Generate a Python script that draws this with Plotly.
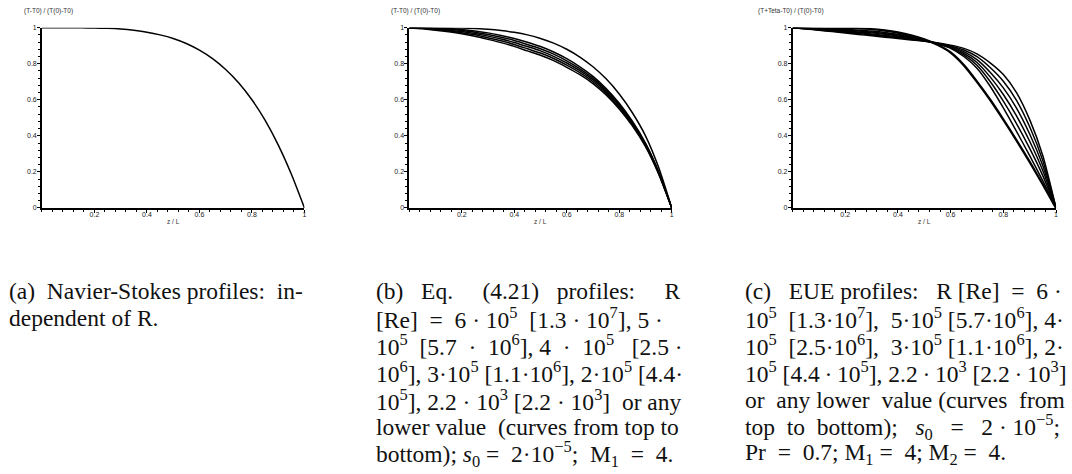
import plotly.graph_objects as go

# ---- data -------------------------------------------------------------
z = [0.00, 0.05, 0.10, 0.15, 0.20, 0.25, 0.30, 0.35, 0.40, 0.45, 0.50,
     0.55, 0.60, 0.65, 0.70, 0.75, 0.80, 0.85, 0.90, 0.95, 1.00]

# (a) Navier-Stokes profile
ns_profile = [1.000, 1.000, 1.000, 0.999, 0.998, 0.996, 0.992, 0.985, 0.975, 0.960, 0.940,
              0.912, 0.875, 0.828, 0.768, 0.693, 0.600, 0.487, 0.350, 0.188, 0.000]

# (b) Eq. (4.21) profiles, top to bottom
eq_top = [1.000, 1.000, 1.000, 0.999, 0.998, 0.995, 0.991, 0.984, 0.974, 0.960, 0.940,
          0.914, 0.880, 0.837, 0.783, 0.716, 0.632, 0.528, 0.400, 0.225, 0.000]
eq_2 = [1.000, 1.000, 0.998, 0.995, 0.990, 0.982, 0.971, 0.957, 0.940, 0.919, 0.895,
        0.865, 0.828, 0.783, 0.730, 0.663, 0.581, 0.481, 0.360, 0.201, 0.000]
eq_3 = [1.000, 0.999, 0.995, 0.991, 0.984, 0.975, 0.962, 0.947, 0.929, 0.907, 0.883,
        0.853, 0.816, 0.772, 0.720, 0.654, 0.573, 0.475, 0.355, 0.198, 0.000]
eq_4 = [1.000, 0.997, 0.992, 0.986, 0.978, 0.967, 0.953, 0.937, 0.918, 0.895, 0.871,
        0.841, 0.804, 0.761, 0.710, 0.645, 0.565, 0.468, 0.350, 0.195, 0.000]
eq_5 = [1.000, 0.996, 0.989, 0.982, 0.972, 0.960, 0.944, 0.927, 0.907, 0.883, 0.859,
        0.829, 0.792, 0.750, 0.700, 0.636, 0.557, 0.462, 0.345, 0.192, 0.000]
eq_6 = [1.000, 0.994, 0.986, 0.977, 0.966, 0.952, 0.935, 0.917, 0.896, 0.871, 0.847,
        0.817, 0.780, 0.739, 0.690, 0.627, 0.549, 0.455, 0.340, 0.189, 0.000]

# (c) EUE profiles (eue_1 is flat near the wall and lowest near z/L = 1)
eue_1 = [1.000, 1.000, 1.000, 0.999, 0.998, 0.996, 0.992, 0.984, 0.973, 0.957, 0.935,
         0.905, 0.862, 0.792, 0.700, 0.600, 0.490, 0.375, 0.255, 0.130, 0.000]
eue_2 = [1.000, 0.998, 0.996, 0.993, 0.990, 0.986, 0.981, 0.973, 0.963, 0.950, 0.932,
         0.910, 0.885, 0.840, 0.775, 0.675, 0.555, 0.425, 0.290, 0.150, 0.000]
eue_3 = [1.000, 0.997, 0.993, 0.990, 0.986, 0.981, 0.976, 0.968, 0.959, 0.946, 0.930,
         0.911, 0.889, 0.849, 0.791, 0.701, 0.592, 0.468, 0.330, 0.178, 0.000]
eue_4 = [1.000, 0.996, 0.991, 0.987, 0.982, 0.976, 0.971, 0.963, 0.954, 0.943, 0.929,
         0.912, 0.892, 0.858, 0.807, 0.727, 0.629, 0.511, 0.370, 0.206, 0.000]
eue_5 = [1.000, 0.995, 0.989, 0.984, 0.978, 0.972, 0.965, 0.957, 0.949, 0.939, 0.927,
         0.913, 0.896, 0.867, 0.823, 0.753, 0.666, 0.554, 0.410, 0.234, 0.000]
eue_6 = [1.000, 0.994, 0.987, 0.981, 0.974, 0.967, 0.960, 0.952, 0.945, 0.936, 0.926,
         0.914, 0.899, 0.876, 0.839, 0.779, 0.703, 0.597, 0.450, 0.262, 0.000]
eue_7 = [1.000, 0.993, 0.985, 0.978, 0.970, 0.962, 0.955, 0.947, 0.940, 0.932, 0.924,
         0.915, 0.903, 0.885, 0.855, 0.805, 0.740, 0.640, 0.490, 0.290, 0.000]

x_tick_vals = [0.2, 0.4, 0.6, 0.8, 1.0]
x_tick_text = ["0.2", "0.4", "0.6", "0.8", "1"]
y_tick_vals = [0.0, 0.2, 0.4, 0.6, 0.8, 1.0]
y_tick_text = ["0", "0.2", "0.4", "0.6", "0.8", "1"]

y_titles = ["(T-T0) / (T(0)-T0)", "(T-T0) / (T(0)-T0)", "(T+Teta-T0) / (T(0)-T0)"]
x_title = "z / L"

N = "\u00a0"   # no-break space, used to spread words across the caption column
T = "\u2009"   # thin space, used where a line must stay narrow
captions = [
    ["(a)" + N + " Navier-Stokes profiles:" + N + " in-",
     "dependent of R."],
    ["(b)" + N * 2 + " Eq." + N * 4 + " (4.21)" + N * 2 + " profiles:" + N * 4 + " R",
     "[Re]" + N + " =" + N + " 6 · 10<sup>5</sup>" + N + " [1.3 · 10<sup>7</sup>], 5 ·",
     "10<sup>5</sup>" + N + " [5.7" + N + " · " + N + "10<sup>6</sup>], 4" + N + " · " + N
     + "10<sup>5</sup>" + N * 2 + " [2.5 ·",
     "10<sup>6</sup>], 3·10<sup>5</sup> [1.1·10<sup>6</sup>], 2·10<sup>5</sup> [4.4·",
     "10<sup>5</sup>], 2.2 · 10<sup>3</sup> [2.2 · 10<sup>3</sup>]" + N + " or any",
     "lower value" + N + " (curves from top to",
     "bottom); <i>s</i><sub>0</sub> =" + N + " 2·10<sup>\u22125</sup>;" + N
     + " M<sub>1</sub>" + N + " =" + N + " 4."],
    ["(c)" + N * 2 + " EUE profiles:" + N * 2 + " R [Re]" + N + " =" + N + " 6 ·",
     "10<sup>5</sup>" + N + " [1.3·10<sup>7</sup>]," + N + " 5·10<sup>5</sup>"
     + " [5.7·10<sup>6</sup>], 4·",
     "10<sup>5</sup>" + N + " [2.5·10<sup>6</sup>]," + N + " 3·10<sup>5</sup>"
     + " [1.1·10<sup>6</sup>], 2·",
     "10<sup>5</sup> [4.4" + T + "·" + T + "10<sup>5</sup>], 2.2" + T + "·" + T
     + "10<sup>3</sup> [2.2" + T + "·" + T + "10<sup>3</sup>]",
     "or" + N + " any lower" + N + " value (curves" + N + " from",
     "top" + N + " to" + N + " bottom);" + N * 2 + " <i>s</i><sub>0</sub>" + N * 2 + " ="
     + N * 2 + " 2 · 10<sup>\u22125</sup>;",
     "Pr" + N + " =" + N + " 0.7; M<sub>1</sub> =" + N + " 4; M<sub>2</sub> =" + N + " 4."],
]

panel_series = [
    [ns_profile],
    [eq_top, eq_2, eq_3, eq_4, eq_5, eq_6],
    [eue_1, eue_2, eue_3, eue_4, eue_5, eue_6, eue_7],
]

# ---- layout geometry (pixels) -----------------------------------------
W, H = 1072, 474
plot_left = [42, 410, 794]
plot_right = [305, 673, 1058]
plot_top, plot_bottom = 24, 207
ytitle_left = [22, 390, 757]
caption_left = [7, 375, 744]
caption_rows = [291.5, 319, 346.5, 374, 401.5, 429, 456.5]


def px(x):
    return x / W


def py(y):
    return 1 - y / H


fig = go.Figure()
annotations = []
sans = "Liberation Sans, Arial, sans-serif"
axis_font = dict(family=sans, size=7, color="#222")

for i, series in enumerate(panel_series):
    n = i + 1
    xa = "x" if n == 1 else f"x{n}"
    ya = "y" if n == 1 else f"y{n}"
    for j, ys in enumerate(series):
        width = 1.5
        if i == 2 and j == 0:
            width = 2.4
        fig.add_trace(go.Scatter(
            x=z, y=ys, xaxis=xa, yaxis=ya, mode="lines",
            line=dict(color="black", width=width, shape="spline", smoothing=0.6),
            showlegend=False, hoverinfo="skip", cliponaxis=False,
        ))

    common = dict(
        showgrid=False, zeroline=False, showline=True, linecolor="black", linewidth=1.5,
        ticks="outside", ticklen=3, tickwidth=1, tickcolor="black",
        tickfont=axis_font, range=[0, 1], fixedrange=True,
        minor=dict(dtick=0.04, tick0=0, ticks="outside", ticklen=2, tickcolor="black", tickwidth=1),
    )
    fig.layout[f"xaxis{'' if n == 1 else n}"] = dict(
        common, domain=[px(plot_left[i]), px(plot_right[i])], anchor=ya,
        tickmode="array", tickvals=x_tick_vals, ticktext=x_tick_text,
        ticklabelstandoff=-4,
    )
    fig.layout[f"yaxis{'' if n == 1 else n}"] = dict(
        common, domain=[py(plot_bottom), py(plot_top)], anchor=xa,
        tickmode="array", tickvals=y_tick_vals, ticktext=y_tick_text,
        ticklabelstandoff=-1,
    )

    annotations.append(dict(
        x=px(ytitle_left[i]), y=py(7), xref="paper", yref="paper",
        xanchor="left", yanchor="middle", showarrow=False,
        text=y_titles[i], font=dict(family=sans, size=6.5, color="#333"),
    ))
    annotations.append(dict(
        x=px((plot_left[i] + plot_right[i]) / 2), y=py(221), xref="paper", yref="paper",
        xanchor="center", yanchor="middle", showarrow=False,
        text=x_title, font=dict(family=sans, size=6.5, color="#333"),
    ))
    for k, line in enumerate(captions[i]):
        annotations.append(dict(
            x=px(caption_left[i]), y=py(caption_rows[k]), xref="paper", yref="paper",
            xanchor="left", yanchor="middle", showarrow=False, align="left",
            text=line, font=dict(family="Liberation Serif, Times New Roman, serif", size=23.5, color="#111"),
        ))

fig.update_layout(
    width=W, height=H, margin=dict(l=0, r=0, t=0, b=0),
    paper_bgcolor="white", plot_bgcolor="white",
    annotations=annotations,
)

fig.write_html("out.html")
